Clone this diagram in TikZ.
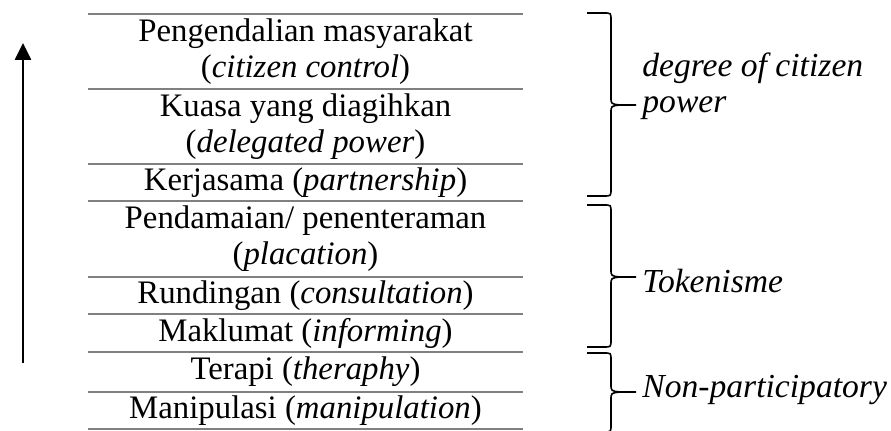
\documentclass[tikz,border=0pt]{standalone}
\usepackage{fontspec}
\setmainfont{Liberation Serif}
\usetikzlibrary{arrows.meta}
\tikzset{
  rung/.style={align=center, inner sep=0pt, font=\fontsize{16.4}{18}\selectfont},
  rungline/.style={gray, line width=1pt},
  grouplabel/.style={anchor=west, align=left, inner sep=0pt, font=\fontsize{16.8}{18}\selectfont\itshape},
  curly/.style={line width=0.8pt}
}
\newcommand{\levelbrace}[3]{%
  \draw[curly] (587,#1) -- (604,#1) .. controls (611,#1) .. (611,#1+7) -- (611,#2-8)
    .. controls (611,#2-1) .. (620,#2) -- (636,#2);
  \draw[curly] (620,#2) .. controls (611,#2+1) .. (611,#2+8) -- (611,#3-7)
    .. controls (611,#3) .. (604,#3) -- (587,#3);
}
\begin{document}
\begin{tikzpicture}[x=0.5pt, y=-0.5pt]
\useasboundingbox (0,0) rectangle (891,431);
\foreach \ry in {14,89,164,201,277,314,352,392,429}
  \draw[rungline] (88,\ry) -- (523,\ry);
\node (citizen) [rung] at (305.5,51.5) {Pengendalian masyarakat\\(\textit{citizen control})};
\node (delegated) [rung] at (305.5,126.5) {Kuasa yang diagihkan\\(\textit{delegated power})};
\node (partnership) [rung] at (305.5,182.5) {Kerjasama (\textit{partnership})};
\node (placation) [rung] at (305.5,239) {Pendamaian/ penenteraman\\(\textit{placation})};
\node (consultation) [rung] at (305.5,295.5) {Rundingan (\textit{consultation})};
\node (informing) [rung] at (305.5,333) {Maklumat (\textit{informing})};
\node (therapy) [rung] at (305.5,372) {Terapi (\textit{theraphy})};
\node (manipulation) [rung] at (305.5,410.5) {Manipulasi (\textit{manipulation})};
\coordinate (ladderfoot) at (23,363);
\coordinate (laddertop) at (23,43);
\draw[line width=1.3pt, -{Triangle[width=8pt, length=8.5pt]}] (ladderfoot) -- (laddertop);
\levelbrace{13}{105}{196}
\levelbrace{205}{277}{347}
\levelbrace{353}{392}{432}
\node (power) [grouplabel] at (642,86) {degree of citizen\\power};
\node (tokenism) [grouplabel] at (642,281) {Tokenisme};
\node (nonpart) [grouplabel] at (642,390) {Non-participatory};
\end{tikzpicture}
\end{document}
